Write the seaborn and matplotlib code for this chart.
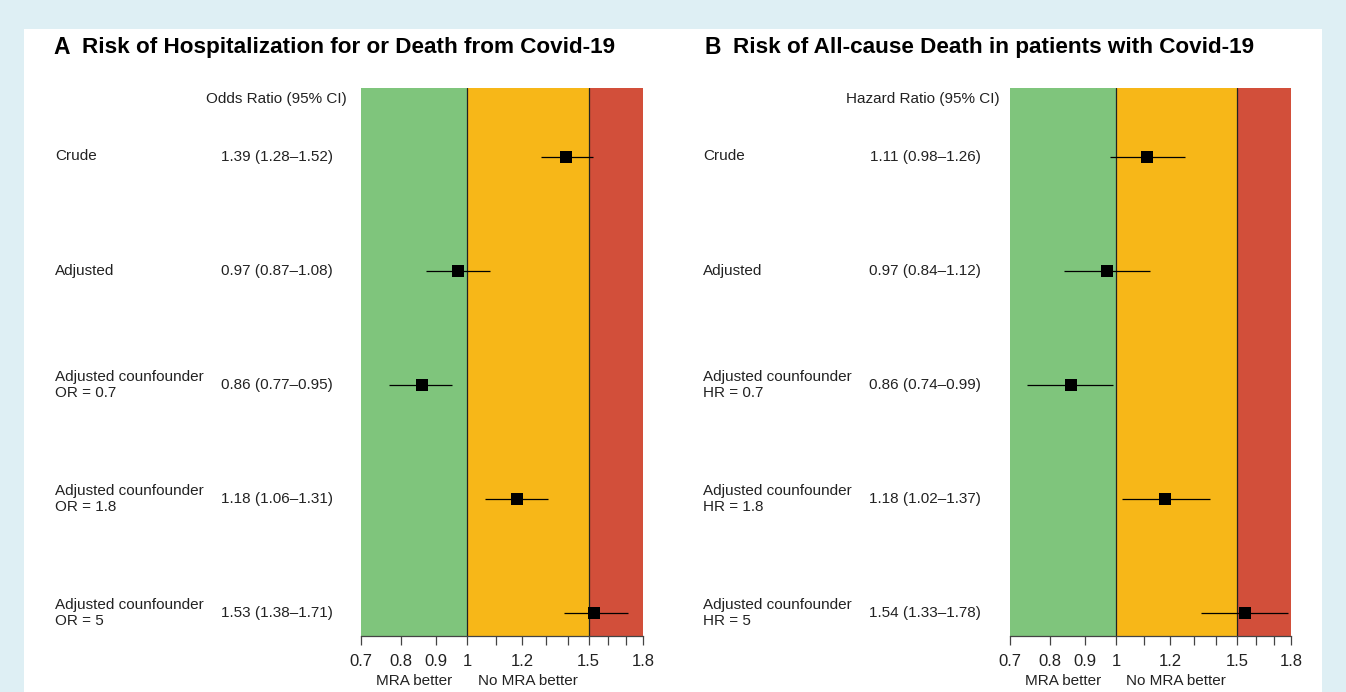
import matplotlib
matplotlib.use("Agg")
import matplotlib.pyplot as plt
import matplotlib.transforms as mtransforms
from matplotlib.patches import Rectangle
import numpy as np
import pandas as pd
import seaborn as sns

# ---------------- data ----------------
row_labels_A = ["Crude", "Adjusted", "Adjusted counfounder\nOR = 0.7",
                "Adjusted counfounder\nOR = 1.8", "Adjusted counfounder\nOR = 5"]
est_A = [1.39, 0.97, 0.86, 1.18, 1.53]
low_A = [1.28, 0.87, 0.77, 1.06, 1.38]
high_A = [1.52, 1.08, 0.95, 1.31, 1.71]

row_labels_B = ["Crude", "Adjusted", "Adjusted counfounder\nHR = 0.7",
                "Adjusted counfounder\nHR = 1.8", "Adjusted counfounder\nHR = 5"]
est_B = [1.11, 0.97, 0.86, 1.18, 1.54]
low_B = [0.98, 0.84, 0.74, 1.02, 1.33]
high_B = [1.26, 1.12, 0.99, 1.37, 1.78]

tick_values = [0.7, 0.8, 0.9, 1, 1.2, 1.5, 1.8]
tick_labels = ["0.7", "0.8", "0.9", "1", "1.2", "1.5", "1.8"]
minor_values = [1.1, 1.3, 1.4, 1.6, 1.7]
zone_edges = [0.7, 1.0, 1.5, 1.8]

title_A = "Risk of Hospitalization for or Death from Covid-19"
title_B = "Risk of All-cause Death in patients with Covid-19"
header_A = "Odds Ratio (95% CI)"
header_B = "Hazard Ratio (95% CI)"

# ---------------- style ----------------
sns.set_theme(style="white")
plt.rcParams['font.family'] = ['Liberation Sans', 'DejaVu Sans']

W, H = 1346, 692
fig = plt.figure(figsize=(W / 100, H / 100), dpi=100, facecolor="#deeff4")
fig.patches.append(Rectangle((24 / W, 0), (1322 - 24) / W, 1 - 29 / H,
                             transform=fig.transFigure, facecolor="white",
                             edgecolor="none", zorder=-10))

GREEN, ORANGE, RED = "#7fc57c", "#f7b718", "#d24f3a"
TXT = "#222222"
FS = 11


def fx(px):
    return px / W


def fy(py):
    return 1 - py / H


def panel(ax_left_px, ax_width_px, letter, title, header, labels, est, low, high,
          label_x_px, est_x_px, header_x_px, title_x_px):
    ax = fig.add_axes([fx(ax_left_px), fy(636), ax_width_px / W, (636 - 88) / H])
    ax.set_facecolor("none")
    n = len(est)
    ypos = list(range(n, 0, -1))
    df = pd.DataFrame({"label": labels, "est": est, "low": low, "high": high, "y": ypos})

    ax.set_xscale("log")
    ax.set_xlim(zone_edges[0], zone_edges[-1])
    ax.set_ylim(0.8, 5.6)
    cols = [GREEN, ORANGE, RED]
    for i in range(3):
        ax.axvspan(zone_edges[i], zone_edges[i + 1], color=cols[i], lw=0, zorder=0)
    for v in zone_edges[1:3]:
        ax.axvline(v, color="#222222", lw=0.9, zorder=1)

    ax.hlines(df["y"], df["low"], df["high"], color="black", lw=0.9, zorder=2)
    sns.scatterplot(data=df, x="est", y="y", marker="s", s=82, color="black",
                    edgecolor="black", linewidth=0, ax=ax, zorder=3, legend=False)

    ax.set_xlabel("")
    ax.set_ylabel("")
    ax.set_yticks([])
    for s in ["top", "right", "left"]:
        ax.spines[s].set_visible(False)
    ax.spines["bottom"].set_color("#444444")
    ax.spines["bottom"].set_linewidth(0.9)
    ax.set_xticks(tick_values)
    ax.set_xticklabels(tick_labels, fontsize=12, color=TXT)
    ax.set_xticks(minor_values, minor=True)
    ax.xaxis.set_minor_formatter(matplotlib.ticker.NullFormatter())
    ax.tick_params(axis="x", which="both", bottom=True, direction="out",
                   length=6.5, width=0.9, color="#444444", pad=6.5)

    tr = mtransforms.blended_transform_factory(fig.transFigure, ax.transData)
    for _, r in df.iterrows():
        ax.text(fx(label_x_px), r["y"], r["label"], transform=tr, ha="left",
                va="center", fontsize=FS, color=TXT, linespacing=1.2,
                clip_on=False)
        ax.text(fx(est_x_px), r["y"],
                f"{r['est']:.2f} ({r['low']:.2f}\u2013{r['high']:.2f})",
                transform=tr, ha="center", va="center", fontsize=FS,
                color=TXT, clip_on=False)
    fig.text(fx(header_x_px), fy(99), header, ha="right", va="center",
             fontsize=FS, color=TXT)
    fig.text(fx(title_x_px), fy(48), letter, ha="left", va="center",
             fontsize=16.5, fontweight="bold", color="black")
    fig.text(fx(title_x_px + 29), fy(48), title, ha="left", va="center",
             fontsize=16.2, fontweight="bold", color="black")

    trb = mtransforms.blended_transform_factory(ax.transData, fig.transFigure)
    fig.text(np.sqrt(zone_edges[0] * zone_edges[1]), fy(681), "MRA better",
             transform=trb, ha="center", va="center", fontsize=FS, color=TXT)
    fig.text(np.sqrt(zone_edges[1] * zone_edges[2]), fy(681), "No MRA better",
             transform=trb, ha="center", va="center", fontsize=FS, color=TXT)
    return ax


panel(361, 282, "A", title_A, header_A, row_labels_A, est_A, low_A, high_A,
      55, 277, 347, 53)
panel(1010, 281, "B", title_B, header_B, row_labels_B, est_B, low_B, high_B,
      703, 925, 1000, 704)

fig.savefig("out.png", dpi=100, facecolor=fig.get_facecolor())
